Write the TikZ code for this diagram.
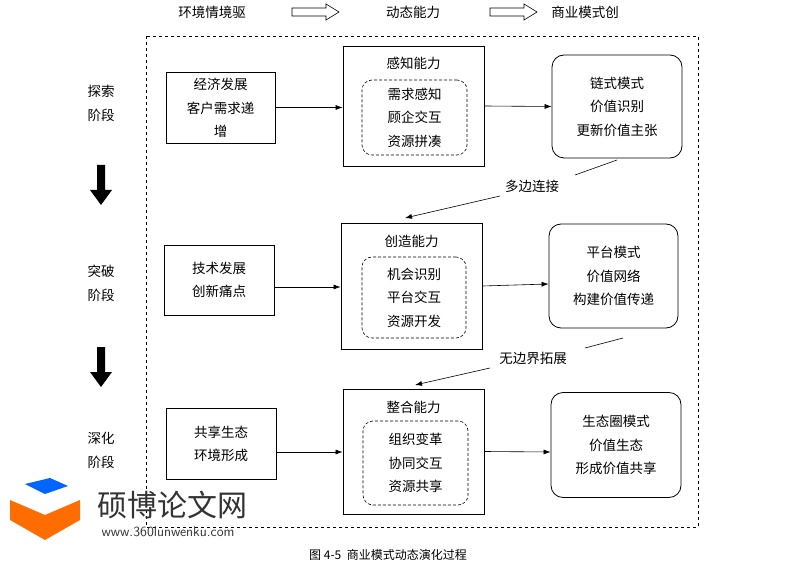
\documentclass[tikz,border=0pt]{standalone}
\usepackage{fontspec}
\newfontfamily\cjk{Noto Sans CJK SC}
\usetikzlibrary{arrows.meta}
\begin{document}
\begin{tikzpicture}[x=1pt,y=-1pt,font=\cjk\fontsize{13.5}{23.5}\selectfont,
  box/.style={draw,line width=0.8pt,align=center,inner sep=0pt},
  rbox/.style={box,rounded corners=12pt},
  inbox/.style={draw,black,dash pattern=on 3pt off 2pt,line width=0.6pt,rounded corners=10pt,align=center,inner sep=0pt},
  arr/.style={-{Latex[length=7pt,width=5pt]},line width=0.6pt},
  lbl/.style={align=center,font=\cjk\fontsize{13.5}{24}\selectfont}]
\useasboundingbox (0,0) rectangle (787,569);
% header
\node (h1) at (212,12) {环境情境驱};
\node (h2) at (413,12) {动态能力};
\node (h3) at (585,12) {商业模式创};
\foreach \a in {292,490}{
 \draw[line width=0.6pt] (\a,8)--(\a+34,8)--(\a+34,4)--(\a+47,12)--(\a+34,20)--(\a+34,16)--(\a,16)--cycle;}
% frame
\draw[dashed,line width=0.9pt] (146,36) rectangle (698,527);
% stages
\node[lbl] (s1) at (101,103) {探索\\阶段};
\node[lbl] (s2) at (101,283) {突破\\阶段};
\node[lbl] (s3) at (101,450) {深化\\阶段};
\foreach \y in {165,347}{
 \fill (97,\y)--(105,\y)--(105,\y+25)--(112,\y+25)--(101,\y+40)--(90,\y+25)--(97,\y+25)--cycle;}
% row 1
\node[box,minimum width=109pt,minimum height=71pt] (a1) at (220.5,107.5) {};
\node[align=center] at (220.5,108) {经济发展\\客户需求递\\增};
\node[box,minimum width=141pt,minimum height=120pt] (b1) at (413.5,106) {};
\node (t1) at (413.5,63) {感知能力};
\node[inbox,minimum width=105pt,minimum height=75pt] (i1) at (414.5,117.5) {需求感知\\顾企交互\\资源拼凑};
\node[rbox,minimum width=130pt,minimum height=103pt] (c1) at (617,106.5) {链式模式\\价值识别\\更新价值主张};
\draw[arr] (a1.east) -- (b1.west |- a1.east);
\draw[arr] (b1.east) -- (c1.west);
\node (e1) at (532,186) {多边连接};
\coordinate (e1r) at (575,175);
\coordinate (e1l) at (500,196);
\draw[line width=0.6pt] (617,160) -- (e1r);
% row 2
\node[box,minimum width=110pt,minimum height=70pt,align=center] (a2) at (219,280) {技术发展\\创新痛点};
\node[box,minimum width=141pt,minimum height=126pt] (b2) at (411.5,286) {};
\node (t2) at (411.5,241) {创造能力};
\node[inbox,minimum width=104pt,minimum height=81pt] (i2) at (414,297.5) {机会识别\\平台交互\\资源开发};
\node[rbox,minimum width=129pt,minimum height=104pt] (c2) at (613.5,276) {平台模式\\价值网络\\构建价值传递};
\draw[arr] (e1l) -- (405,218);
\draw[arr] (219,287) ++(55,0) -- (b2.west |- 0,287);
\draw[arr] (b2.east) -- (c2.west |- 0,284);
\node (e2) at (533,358) {无边界拓展};
\coordinate (e2r) at (585,348);
\coordinate (e2l) at (490,368);
\draw[line width=0.6pt] (623,338) -- (e2r);
% row 3
\node[box,minimum width=110pt,minimum height=71pt,align=center] (a3) at (221,444) {共享生态\\环境形成};
\node[box,minimum width=141pt,minimum height=125pt] (b3) at (413.5,451.5) {};
\node (t3) at (413.5,407) {整合能力};
\node[inbox,minimum width=105pt,minimum height=84pt] (i3) at (415.5,463) {组织变革\\协同交互\\资源共享};
\node[rbox,minimum width=130pt,minimum height=105pt] (c3) at (616,445) {生态圈模式\\价值生态\\形成价值共享};
\draw[arr] (e2l) -- (415,385);
\draw[arr] (276,452) -- (b3.west |- 0,452);
\draw[arr] (b3.east) -- (c3.west |- 0,452);
% caption
\node[font=\cjk\fontsize{12}{13}\selectfont] (cap) at (388,555) {图 4-5\ \ 商业模式动态演化过程};
% watermark
\fill[orange!85!red] (10,500)--(45,515)--(80,500)--(80,520)--(45,540)--(10,520)--cycle;
\fill[blue!60!cyan] (25,484)--(50,478)--(68,486)--(45,494)--cycle;
\node[font=\cjk\fontsize{30}{32}\selectfont,text=black!80] (wm) at (172,505) {硕博论文网};
\node[font=\sffamily\fontsize{14}{15}\selectfont,text=black!80] (wu) at (168,532) {www.360lunwenku.com};
\end{tikzpicture}
\end{document}
